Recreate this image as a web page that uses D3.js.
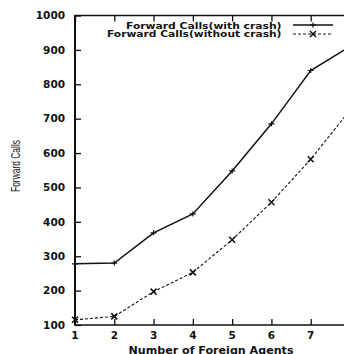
<!DOCTYPE html>
<html><head><meta charset="utf-8">
<script src="https://cdn.jsdelivr.net/npm/d3@7"></script>
<style>
html,body{margin:0;padding:0;background:#fff;overflow:hidden;}
svg{display:block;}
</style></head>
<body>
<script>
const agents = [1, 2, 3, 4, 5, 6, 7, 8];
const withCrash = [278, 280, 368, 423, 548, 685, 840, 910];
const withoutCrash = [115, 125, 197, 253, 348, 457, 582, 725];
const yTicks = [100, 200, 300, 400, 500, 600, 700, 800, 900, 1000];
const xTicks = [1, 2, 3, 4, 5, 6, 7, 8];
const seriesNames = ["Forward Calls(with crash)", "Forward Calls(without crash)"];

const W = 344, H = 354;
const svg = d3.select("body").append("svg").attr("width", W).attr("height", H);
const ink = "#111";
const x = d3.scaleLinear().domain([1, 8]).range([75, 350]);
const y = d3.scaleLinear().domain([100, 1000]).range([325, 15.5]);

const tickFont = "DejaVu Sans, sans-serif";

// frame
svg.append("rect").attr("x", x(1)).attr("y", y(1000))
  .attr("width", x(8) - x(1)).attr("height", y(100) - y(1000))
  .attr("fill", "none").attr("stroke", ink).attr("stroke-width", 1.5);
svg.append("line").attr("x1", x(1)).attr("x2", x(1)).attr("y1", y(1000)).attr("y2", y(100))
  .attr("stroke", ink).attr("stroke-width", 2);

// axes ticks (inward on all four sides)
const yL = svg.append("g").attr("transform", `translate(${x(1)},0)`)
  .call(d3.axisRight(y).tickValues(yTicks).tickSize(6).tickFormat(""));
const yR = svg.append("g").attr("transform", `translate(${x(8)},0)`)
  .call(d3.axisLeft(y).tickValues(yTicks).tickSize(6).tickFormat(""));
const xB = svg.append("g").attr("transform", `translate(0,${y(100)})`)
  .call(d3.axisTop(x).tickValues(xTicks).tickSize(6).tickFormat(""));
const xT = svg.append("g").attr("transform", `translate(0,${y(1000)})`)
  .call(d3.axisBottom(x).tickValues(xTicks).tickSize(6).tickFormat(""));
[yL, yR, xB, xT].forEach(g => {
  g.select(".domain").remove();
  g.selectAll(".tick line").attr("stroke", ink).attr("stroke-width", 1.3);
});

// tick labels
svg.append("g").selectAll("text").data(yTicks).join("text")
  .attr("x", 65).attr("y", d => y(d)).attr("dy", "0.36em")
  .attr("text-anchor", "end").attr("font-family", tickFont).attr("font-weight", "bold")
  .attr("font-size", 10.5).attr("fill", ink).text(d => d);
svg.append("g").selectAll("text").data(xTicks.filter(d => d < 8)).join("text")
  .attr("x", d => x(d)).attr("y", 339)
  .attr("text-anchor", "middle").attr("font-family", tickFont).attr("font-weight", "bold")
  .attr("font-size", 10.5).attr("fill", ink).text(d => d);

// axis titles
svg.append("text").attr("x", 211).attr("y", 353.5).attr("text-anchor", "middle")
  .attr("font-family", tickFont).attr("font-weight", "bold").attr("font-size", 10)
  .attr("textLength", 165).attr("lengthAdjust", "spacingAndGlyphs")
  .attr("fill", ink).text("Number of Foreign Agents");
svg.append("text").attr("transform", "translate(20,166) rotate(-90)").attr("text-anchor", "middle")
  .attr("font-family", "Liberation Sans Narrow, Liberation Sans, sans-serif").attr("font-size", 12)
  .attr("textLength", 52).attr("lengthAdjust", "spacingAndGlyphs")
  .attr("fill", ink).text("Forward Calls");

// lines
const line = d3.line().x((d, i) => x(agents[i])).y(d => y(d));
svg.append("path").datum(withCrash).attr("d", line).attr("fill", "none")
  .attr("stroke", ink).attr("stroke-width", 1.5);
svg.append("path").datum(withoutCrash).attr("d", line).attr("fill", "none")
  .attr("stroke", ink).attr("stroke-width", 1.1).attr("stroke-dasharray", "3,2");

// markers
function plus(g, cx, cy) {
  g.append("path").attr("d", `M${cx-3},${cy}H${cx+3}M${cx},${cy-2.5}V${cy+2.5}`)
    .attr("stroke", ink).attr("stroke-width", 1.2).attr("fill", "none");
}
function cross(g, cx, cy) {
  g.append("path").attr("d", `M${cx-3},${cy-3}L${cx+3},${cy+3}M${cx-3},${cy+3}L${cx+3},${cy-3}`)
    .attr("stroke", ink).attr("stroke-width", 1.5).attr("fill", "none");
}
const mg = svg.append("g");
withCrash.forEach((v, i) => plus(mg, x(agents[i]), y(v)));
withoutCrash.forEach((v, i) => cross(mg, x(agents[i]), y(v)));

// legend
const legBase = [29.3, 37.3];
const legLineY = [25, 34];
seriesNames.forEach((name, i) => {
  svg.append("text").attr("x", 281.5).attr("y", legBase[i])
    .attr("text-anchor", "end").attr("font-family", tickFont).attr("font-weight", "bold")
    .attr("font-size", 9).attr("textLength", i === 0 ? 155.5 : 174.5).attr("lengthAdjust", "spacingAndGlyphs")
    .attr("fill", ink).text(name);
  svg.append("line").attr("x1", 293).attr("x2", 333).attr("y1", legLineY[i]).attr("y2", legLineY[i])
    .attr("stroke", ink).attr("stroke-width", i === 0 ? 1.5 : 1.1)
    .attr("stroke-dasharray", i === 0 ? null : "3,2");
  if (i === 0) plus(svg, 313, legLineY[i]); else cross(svg, 313, legLineY[i]);
});
</script>
</body></html>
